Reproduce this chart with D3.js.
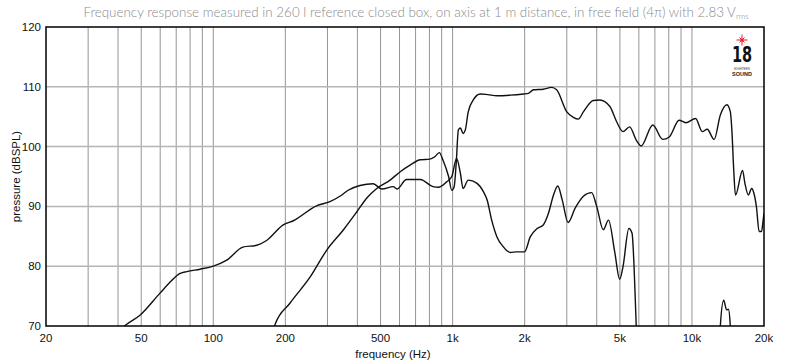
<!DOCTYPE html>
<html>
<head>
<meta charset="utf-8">
<script src="https://cdn.jsdelivr.net/npm/d3@7"></script>
<style>
  body { margin: 0; background: #fff; }
</style>
</head>
<body>
<svg id="chart" width="787" height="362"></svg>
<script>
// tick labels
const xTicks = [20, 50, 100, 200, 500, 1000, 2000, 5000, 10000, 20000];
const xTickLabels = ['20', '50', '100', '200', '500', '1k', '2k', '5k', '10k', '20k'];
const yTicks = [70, 80, 90, 100, 110, 120];

// woofer-ish curve (lower one at high freq), values < 70 fall outside the plot
const lowFreq = [30, 43.2, 49.4, 59.9, 67, 72, 77.5, 88, 100, 113.8, 133, 152, 167, 196, 216, 270, 307, 338, 366, 410, 466,
  506, 565, 585, 642, 733, 828, 873, 944, 992, 1039, 1078, 1106, 1162, 1261, 1343, 1393, 1456, 1532, 1624, 1740,
  1850, 1998, 2110, 2254, 2392, 2512, 2640, 2750, 2870, 3036, 3250, 3518, 3808, 4000, 4260, 4480, 4760, 4990,
  5150, 5450, 5620, 5730, 5850, 6000, 12800, 13140, 13570, 13960, 14200, 14450, 14700];
const lowDb = [62, 70.2, 71.8, 75.5, 77.6, 78.7, 79.1, 79.5, 80.0, 81.0, 83.2, 83.5, 84.3, 86.9, 87.6, 90.1, 90.8, 91.7, 92.7, 93.5, 93.8,
  92.9, 93.3, 92.9, 94.5, 94.5, 93.3, 93.2, 94.1, 95.0, 98.0, 95.5, 93.0, 94.4, 93.9, 92.5, 91.1, 87.7, 84.9, 83.3, 82.3,
  82.4, 82.4, 84.9, 86.3, 86.9, 88.8, 91.9, 93.4, 91.1, 87.3, 89.7, 91.7, 92.3, 90.0, 86.1, 87.7, 82.3, 77.8,
  79.9, 86.3, 85.5, 79.9, 70, 60, 60, 70, 74.3, 72.7, 72.8, 70.2, 60];

// upper curve
const highFreq = [170, 181, 209, 254, 298, 350, 398, 438, 482, 548, 604, 664, 733, 803, 842, 880, 910, 962, 992, 1015,
  1035, 1057, 1078, 1106, 1130, 1162, 1220, 1304, 1400, 1532, 1740, 1978, 2075, 2177, 2392, 2592, 2720, 3000, 3194,
  3350, 3518, 3868, 4120, 4540, 4840, 5150, 5490, 5850, 6130, 6860, 7550, 8040, 8840, 9420, 10360, 11040, 11580,
  12380, 13140, 14000, 14470, 14680, 14950, 15200, 16270, 16640, 17200, 17760, 18150, 18600, 19080, 19530, 19840, 20000];
const highDb = [60, 70.2, 73.8, 78.2, 82.7, 86.1, 89.1, 91.4, 93.0, 94.4, 95.8, 96.9, 97.8, 97.9, 98.3, 99.0, 97.8, 95.0, 92.7, 93.3,
  97.2, 102.8, 103.1, 102.2, 102.8, 105.8, 107.8, 108.8, 108.7, 108.5, 108.6, 108.8, 108.9, 109.5, 109.6, 109.9, 109.5, 105.8, 104.9,
  104.6, 105.8, 107.7, 107.8, 106.7, 104.2, 102.5, 103.3, 101.1, 100.1, 103.6, 101.2, 101.6, 104.4, 104.0, 104.7, 102.5, 102.9,
  101.2, 105.3, 107.0, 105.8, 102.8, 96.0, 91.9, 96.0, 93.9, 91.9, 93.0, 92.2, 89.9, 85.8, 85.8, 87.7, 88.8];

const svg = d3.select('#chart');
const font = '"Liberation Sans", Arial, Helvetica, sans-serif';
const margin = { left: 46, right: 23, top: 27, bottom: 36 };
const W = 787, H = 362;

const x = d3.scaleLog().domain([20, 20000]).range([margin.left, W - margin.right]);
const y = d3.scaleLinear().domain([70, 120]).range([H - margin.bottom, margin.top]);

// title
const title = svg.append('text')
  .attr('x', 416).attr('y', 17)
  .attr('text-anchor', 'middle')
  .attr('font-family', 'Lato, "Open Sans", sans-serif')
  .attr('font-weight', 300)
  .attr('font-size', 13.4)
  .attr('fill', '#8a8a8a')
  .text('Frequency response measured in 260 l reference closed box, on axis at 1 m distance, in free field (4π) with 2.83 V');
title.append('tspan').attr('font-size', 8).attr('dy', 2).text('rms');

// grid
const grid = svg.append('g');
const minor = [];
[10, 100, 1000, 10000].forEach(dec => {
  for (let k = 1; k <= 9; k++) {
    const f = dec * k;
    if (f > 20 && f < 20000) minor.push(f);
  }
});
grid.selectAll('line.v').data(minor).join('line')
  .attr('x1', d => x(d)).attr('x2', d => x(d))
  .attr('y1', y(120)).attr('y2', y(70))
  .attr('stroke', '#7a7a7a').attr('stroke-width', 0.8);
grid.selectAll('line.h').data([80, 90, 100, 110]).join('line')
  .attr('x1', x(20)).attr('x2', x(20000))
  .attr('y1', d => y(d)).attr('y2', d => y(d))
  .attr('stroke', '#b5b5b5').attr('stroke-width', 1.5);

// curves
svg.append('clipPath').attr('id', 'plot')
  .append('rect')
  .attr('x', x(20)).attr('y', y(120))
  .attr('width', x(20000) - x(20)).attr('height', y(70) - y(120));

const line = d3.line()
  .x(d => x(d[0]))
  .y(d => y(d[1]))
  .curve(d3.curveMonotoneX);

const curves = svg.append('g').attr('clip-path', 'url(#plot)');
[[lowFreq, lowDb], [highFreq, highDb]].forEach(([fs, dbs]) => {
  curves.append('path')
    .datum(d3.zip(fs, dbs))
    .attr('d', line)
    .attr('fill', 'none')
    .attr('stroke', '#111')
    .attr('stroke-width', 1.4)
    .attr('stroke-linejoin', 'round');
});

// frame
svg.append('rect')
  .attr('x', x(20)).attr('y', y(120))
  .attr('width', x(20000) - x(20)).attr('height', y(70) - y(120))
  .attr('fill', 'none').attr('stroke', '#000').attr('stroke-width', 1.5);

// axes labels
svg.append('g').selectAll('text').data(yTicks).join('text')
  .attr('x', x(20) - 5).attr('y', d => y(d) + 4)
  .attr('text-anchor', 'end')
  .attr('font-family', font)
  .attr('font-size', 11.5)
  .attr('fill', '#111')
  .text(d => d);

svg.append('g').selectAll('text').data(xTicks).join('text')
  .attr('x', d => x(d)).attr('y', 342)
  .attr('text-anchor', 'middle')
  .attr('font-family', font)
  .attr('font-size', 11.5)
  .attr('fill', '#111')
  .text((d, i) => xTickLabels[i]);

svg.append('text')
  .attr('x', 393).attr('y', 358)
  .attr('text-anchor', 'middle')
  .attr('font-family', font)
  .attr('font-size', 11.5)
  .attr('fill', '#111')
  .text('frequency (Hz)');

svg.append('text')
  .attr('transform', 'translate(20,' + (y(95)) + ') rotate(-90)')
  .attr('text-anchor', 'middle')
  .attr('font-family', font)
  .attr('font-size', 11.5)
  .attr('fill', '#111')
  .text('pressure (dBSPL)');

// logo
const logo = svg.append('g').attr('transform', 'translate(742,0)');
const star = logo.append('g').attr('transform', 'translate(0,40)')
  .attr('stroke', '#e8202a').attr('stroke-width', 1);
d3.range(8).forEach(i => {
  const a = i * Math.PI / 4;
  const r = i % 2 === 0 ? 5.5 : 3.5;
  star.append('line')
    .attr('x1', 0).attr('y1', 0)
    .attr('x2', r * Math.cos(a)).attr('y2', r * Math.sin(a));
});
logo.append('circle').attr('cx', 0).attr('cy', 40).attr('r', 1.6).attr('fill', '#e8202a');
logo.append('text')
  .attr('transform', 'translate(0,62) scale(0.85,1.15)')
  .attr('text-anchor', 'middle')
  .attr('font-family', '"Liberation Sans Narrow", "DejaVu Sans Condensed", sans-serif')
  .attr('font-weight', 'bold')
  .attr('font-size', 19)
  .attr('fill', '#111')
  .text('18');
logo.append('text')
  .attr('x', 0).attr('y', 69.5)
  .attr('text-anchor', 'middle')
  .attr('font-family', font)
  .attr('font-size', 3)
  .attr('fill', '#333')
  .text('EIGHTEEN');
logo.append('text')
  .attr('x', 0).attr('y', 75.5)
  .attr('text-anchor', 'middle')
  .attr('font-family', font)
  .attr('font-weight', 'bold')
  .attr('font-size', 5.5)
  .attr('fill', '#222')
  .text('SOUND');
</script>
</body>
</html>
